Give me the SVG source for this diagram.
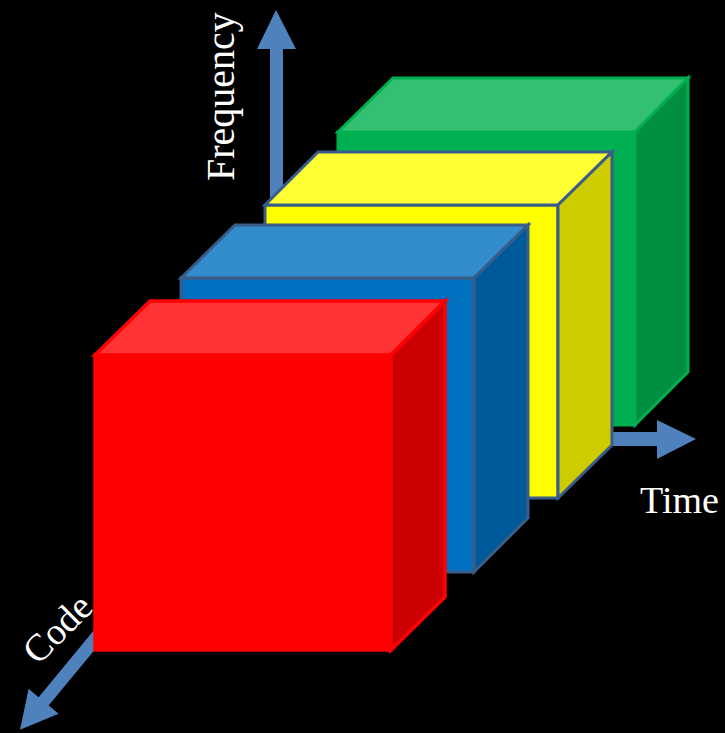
<svg xmlns="http://www.w3.org/2000/svg" width="725" height="733" viewBox="0 0 725 733">
<style>
.arrow{fill:#4F81BD}
.lbl{font-family:"Liberation Serif","Times New Roman",serif;fill:#FFFFFF}
.g{stroke:#00B050;stroke-width:3;stroke-linejoin:miter}
.y,.b{stroke:#385D8A;stroke-width:3;stroke-linejoin:miter}
.r{stroke:#FF0000;stroke-width:3.5;stroke-linejoin:miter}
</style>
<rect x="0" y="0" width="725" height="733" fill="#000000"/>
<g id="axes">
  <polygon id="freq-arrow" class="arrow" points="270,220 270,49 257,49 276,10 296,49 283,49 283,220"/>
  <polygon id="time-arrow" class="arrow" points="595,432 657,432 657,420 696,439 657,459 657,446 595,446"/>
  <polygon id="code-arrow" class="arrow" transform="translate(115,615) rotate(129.6)" points="0,-6.5 112,-6.5 112,-19.5 149,0 112,19.5 112,6.5 0,6.5"/>
</g>
<g id="green-cube" class="g">
  <rect x="338" y="132" width="297" height="293" fill="#00B050"/>
  <polygon points="338,132 393,78 688,78 635,132" fill="#33C073"/>
  <polygon points="635,132 688,78 688,372 635,425" fill="#008F40"/>
</g>
<g id="yellow-cube" class="y">
  <rect x="265" y="205" width="293" height="293" fill="#FFFF00"/>
  <polygon points="265,205 318,152 612,152 558,205" fill="#FFFF33"/>
  <polygon points="558,205 612,152 612,445 558,498" fill="#CCCC00"/>
</g>
<g id="blue-cube" class="b">
  <rect x="181" y="278" width="293" height="294" fill="#0070C0"/>
  <polygon points="181,278 235,225 528,225 474,278" fill="#338DCD"/>
  <polygon points="474,278 528,225 528,518 474,572" fill="#005A9A"/>
</g>
<g id="red-cube" class="r">
  <rect x="95" y="355" width="296" height="295" fill="#FF0000"/>
  <polygon points="95,355 150,301 445,301 391,355" fill="#FF3333"/>
  <polygon points="391,355 445,301 445,597 391,650" fill="#CC0000"/>
</g>
<g id="labels">
  <text class="lbl" font-size="40" transform="translate(234,181) rotate(-90)">Frequency</text>
  <text class="lbl" font-size="38" x="640" y="513">Time</text>
  <text class="lbl" font-size="38" transform="translate(38,666) rotate(-45)">Code</text>
</g>
</svg>
